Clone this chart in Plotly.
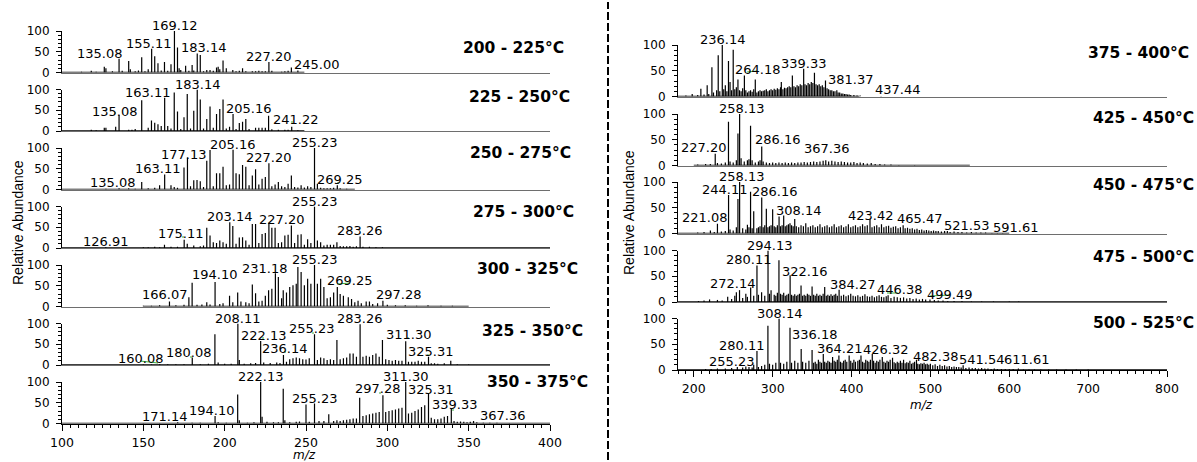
import plotly.graph_objects as go

W, H = 1197, 462

# ---------------- data: left column (m/z, relative abundance) ----------------
L_TITLES = ["200 - 225°C", "225 - 250°C", "250 - 275°C", "275 - 300°C",
            "300 - 325°C", "325 - 350°C", "350 - 375°C"]
R_TITLES = ["375 - 400°C", "425 - 450°C", "450 - 475°C", "475 - 500°C", "500 - 525°C"]

L1_MZ = [112, 118, 121, 126, 127, 131, 135.08, 137, 141, 142, 145, 147, 149, 151, 153, 155.11, 157, 159,
         161, 163, 165, 167, 169.12, 171, 172, 173, 176, 178, 180, 181, 183.14, 185, 187, 189, 191, 193,
         195, 196, 197, 199, 201, 205, 207, 209, 211, 213, 217, 219, 221, 223, 225, 227.20, 229, 235,
         237, 239, 241, 245.00]
L1_AB = [2, 4, 2, 14, 10, 3, 33, 4, 28, 8, 3, 5, 37, 3, 8, 57, 39, 22,
         5, 25, 4, 20, 100, 60, 10, 6, 16, 4, 18, 5, 46, 42, 3, 6, 6, 4,
         12, 14, 8, 29, 10, 6, 3, 4, 10, 3, 3, 3, 4, 3, 3, 25, 4, 2,
         3, 4, 12, 5]
L1_LABELS = ["135.08", "155.11", "169.12", "183.14", "227.20", "245.00"]

L2_MZ = [118, 121, 126, 127, 133, 135.08, 141, 143, 145, 149, 153, 155, 157, 159, 161, 163.11, 165, 167,
         169, 171, 173, 175, 177, 179, 181, 183.14, 185, 187, 189, 191, 193, 195, 197, 199, 201, 203,
         205.16, 207, 209, 211, 213, 215, 219, 221, 223, 225, 227, 229, 233, 237, 239, 241.22, 245]
L2_AB = [3, 2, 8, 8, 10, 38, 3, 3, 5, 74, 8, 25, 20, 16, 12, 80, 12, 6,
         93, 47, 5, 33, 89, 6, 49, 100, 76, 6, 29, 59, 8, 41, 53, 76, 6, 10,
         41, 5, 19, 22, 29, 5, 8, 8, 8, 8, 37, 4, 3, 3, 3, 10, 2]
L2_LABELS = ["135.08", "163.11", "183.14", "205.16", "241.22"]

L3_MZ = [127, 135.08, 141, 145, 149, 153, 157, 160, 163.11, 167, 169, 171, 175, 177.13, 179, 181, 183, 185,
         187, 189, 191, 193, 195, 197, 199, 201, 203, 205.16, 207, 209, 211, 213, 215, 217, 219, 221,
         223, 225, 227.20, 229, 231, 233, 235, 237, 239, 241, 243, 245, 247, 249, 251, 253, 255.23, 257,
         259, 261, 263, 265, 267, 269.25, 271, 275]
L3_AB = [2, 3, 3, 2, 18, 3, 4, 10, 36, 10, 6, 4, 53, 77, 8, 22, 23, 20,
         6, 69, 95, 8, 39, 39, 55, 10, 12, 96, 39, 37, 59, 55, 10, 34, 49, 12,
         26, 30, 63, 8, 12, 18, 8, 6, 14, 34, 6, 5, 10, 5, 8, 6, 100, 14,
         4, 3, 3, 3, 4, 10, 3, 2]
L3_LABELS = ["135.08", "163.11", "177.13", "205.16", "227.20", "255.23", "269.25"]

L4_MZ = [126.91, 150, 153, 157, 160, 163, 167, 171, 175.11, 177, 181, 185, 187, 189, 191, 193, 195, 197,
         199, 201, 203.14, 205, 207, 209, 211, 213, 215, 217, 219, 221, 223, 225, 227.20, 229, 231, 233,
         235, 237, 239, 241, 243, 245, 247, 249, 251, 253, 255.23, 257, 259, 261, 263, 265, 267, 269,
         271, 273, 275, 277, 279, 281, 283.26, 285, 289, 293, 297]
L4_AB = [2, 2, 2, 3, 2, 8, 3, 3, 20, 10, 6, 4, 6, 49, 30, 14, 12, 18,
         14, 10, 62, 53, 10, 25, 26, 18, 8, 58, 58, 12, 34, 36, 61, 49, 49, 12,
         14, 30, 32, 54, 12, 32, 33, 8, 21, 12, 100, 18, 14, 6, 8, 8, 8, 14,
         5, 4, 4, 5, 3, 4, 28, 3, 3, 2, 2]
L4_LABELS = ["126.91", "175.11", "203.14", "227.20", "255.23", "283.26"]

L5_MZ = [150, 155, 160, 166.07, 170, 175, 178, 180, 183, 186, 189, 191, 194.10, 197, 199, 203, 205, 208,
         210, 213, 215, 217, 219, 221, 223, 225, 227, 229, 231.18, 233, 235, 236, 238, 240, 242, 244,
         245, 247, 249, 251, 253, 255.23, 257, 259, 261, 263, 265, 267, 269.25, 271, 273, 276, 278, 280,
         282, 284, 287, 289, 291, 294, 297.28, 300, 305, 311, 318, 325, 333, 340]
L5_AB = [2, 2, 3, 12, 3, 4, 22, 57, 4, 5, 10, 5, 59, 6, 8, 26, 10, 34,
         12, 10, 8, 53, 32, 12, 14, 26, 39, 43, 80, 71, 20, 39, 34, 47, 51, 55,
         95, 83, 51, 67, 55, 100, 55, 67, 47, 20, 22, 34, 47, 30, 26, 22, 18, 10,
         14, 8, 12, 12, 6, 8, 14, 4, 3, 3, 2, 3, 2, 2]
L5_LABELS = ["166.07", "194.10", "231.18", "255.23", "269.25", "297.28"]

L6_MZ = [150, 155, 160.08, 165, 170, 175, 180.08, 185, 190, 194, 196, 200, 204, 208.11, 209, 212, 216, 219,
         222.13, 224, 228, 232, 234, 236.14, 238, 240, 242, 244, 246, 248, 250, 252, 255.23, 257, 259,
         261, 263, 265, 267, 269, 271, 273, 275, 277, 279, 281, 283.26, 285, 287, 289, 291, 293, 295,
         297, 299, 301, 303, 305, 307, 309, 311.30, 313, 315, 317, 319, 321, 323, 325.31, 327, 329, 331,
         335, 339, 343, 350]
L6_AB = [1, 1, 2, 2, 2, 2, 18, 2, 3, 74, 6, 3, 3, 100, 12, 3, 4, 5,
         58, 6, 5, 6, 5, 24, 8, 14, 16, 18, 16, 14, 13, 16, 74, 12, 18,
         16, 12, 14, 12, 60, 14, 16, 18, 28, 28, 20, 98, 20, 22, 20, 24, 28, 20,
         60, 14, 12, 10, 12, 10, 10, 57, 8, 8, 8, 10, 8, 8, 20, 4, 4, 3,
         4, 10, 2, 1]
L6_LABELS = ["160.08", "180.08", "208.11", "222.13", "236.14", "255.23", "283.26", "311.30", "325.31"]

L7_MZ = [150, 160, 171.14, 180, 185, 194.10, 196, 201, 208, 209, 214, 218, 222.13, 223, 226, 230, 233, 236,
         237, 240, 244, 246, 250, 252, 255.23, 258, 261, 264, 267, 269, 271, 273, 275, 277, 279, 281,
         283, 285, 287, 289, 291, 293, 295, 297.28, 299, 301, 303, 305, 307, 309, 311.30, 313, 315, 317,
         319, 321, 323, 325.31, 327, 329, 331, 333, 335, 337, 339.33, 341, 343, 345, 347, 349, 351, 353,
         355, 359, 363, 367.36, 375]
L7_AB = [1, 1, 3, 2, 2, 18, 3, 2, 70, 8, 2, 3, 100, 16, 4, 3, 3, 84,
         8, 3, 4, 5, 46, 4, 48, 6, 6, 22, 6, 8, 6, 8, 9, 10, 12, 12,
         62, 18, 20, 22, 24, 26, 28, 68, 28, 30, 32, 34, 36, 38, 100, 24, 26, 30,
         34, 40, 44, 73, 14, 10, 10, 12, 16, 18, 37, 6, 4, 5, 4, 3, 4, 6,
         3, 2, 2, 2, 1]
L7_LABELS = ["171.14", "194.10", "222.13", "255.23", "297.28", "311.30", "325.31", "339.33", "367.36"]

# ---------------- data: right column ----------------
R1_MZ = [190, 198, 205, 209, 213, 217, 219, 223, 225, 229, 231, 233, 236.14, 238, 240, 242, 244, 246,
         248, 250, 252, 254, 256, 258, 260, 262, 264.18, 266, 268, 270, 272, 274, 276, 278, 280, 282,
         284, 286, 288, 290, 292, 294, 296, 298, 300, 302, 304, 306, 308, 310, 311, 313, 315, 317,
         319, 321, 323, 325, 327, 329, 331, 333, 335, 337, 339.33, 341, 343, 345, 347, 349, 351, 353,
         355, 357, 359, 361, 363, 365, 367, 369, 371, 373, 375, 377, 379, 381.37, 383, 385, 387, 389,
         391, 393, 395, 397, 399, 403, 407, 411, 437.44]
R1_AB = [2, 5, 3, 15, 4, 22, 5, 57, 8, 12, 80, 10, 100, 14, 22, 10, 69, 28,
         12, 91, 14, 18, 33, 12, 10, 16, 41, 12, 8, 10, 12, 9, 14, 33, 8, 10,
         12, 10, 11, 12, 14, 10, 12, 14, 12, 15, 13, 16, 14, 18, 28, 14, 17, 16,
         18, 20, 18, 41, 20, 18, 22, 20, 24, 22, 54, 24, 22, 26, 24, 28, 26, 46,
         24, 22, 24, 20, 22, 18, 31, 16, 14, 12, 12, 10, 10, 12, 8, 8, 6, 6,
         5, 5, 4, 4, 3, 3, 2, 2, 1]
R1_LABELS = ["236.14", "264.18", "339.33", "381.37", "437.44"]

R2_MZ = [205, 215, 221, 227.20, 230, 235, 240, 244, 246, 250, 254, 256, 258.13, 260, 264, 268, 270, 272,
         274, 278, 282, 284, 286.16, 288, 292, 296, 300, 304, 308, 312, 316, 320, 324, 328, 332, 336,
         340, 344, 348, 352, 356, 360, 364, 367.36, 371, 375, 379, 383, 387, 391, 395, 399, 403, 407,
         411, 415, 420, 425, 430, 436, 442, 450, 460, 480]
R2_AB = [2, 3, 3, 23, 5, 4, 6, 85, 8, 6, 10, 62, 100, 14, 8, 10, 12, 77,
         10, 6, 8, 10, 37, 8, 6, 5, 6, 5, 6, 5, 6, 5, 6, 5, 6, 6,
         7, 6, 7, 8, 7, 8, 9, 10, 8, 9, 8, 7, 8, 7, 6, 6, 7, 5,
         6, 5, 4, 5, 3, 3, 2, 2, 1, 1]
R2_LABELS = ["227.20", "258.13", "286.16", "367.36"]

R3_MZ = [205, 213, 221.08, 226, 230, 235, 240, 244.11, 246, 250, 254, 256, 258.13, 262, 266, 268, 270, 272,
         274, 276, 280, 282, 284, 286.16, 288, 290, 292, 294, 296, 298, 300, 302, 304, 306, 308.14, 310,
         312, 314, 316, 318, 320, 322, 324, 326, 328, 330, 333, 336, 339, 342, 345, 348, 351, 354,
         357, 360, 363, 366, 369, 372, 375, 378, 381, 384, 387, 390, 393, 396, 399, 402, 405, 408,
         411, 414, 417, 420, 423.42, 426, 429, 432, 435, 438, 441, 444, 447, 450, 453, 456, 459, 462,
         465.47, 468, 471, 474, 477, 480, 483, 486, 489, 492, 495, 498, 501, 504, 507, 510, 514, 518,
         521.53, 525, 530, 535, 540, 546, 552, 558, 564, 570, 578, 585, 591.61]
R3_AB = [2, 3, 6, 3, 19, 4, 5, 75, 8, 6, 12, 67, 100, 10, 8, 17, 12, 81,
         10, 43, 10, 12, 14, 70, 12, 16, 48, 12, 14, 16, 47, 14, 12, 16, 33, 14,
         16, 35, 14, 16, 18, 20, 16, 14, 28, 14, 12, 16, 14, 20, 12, 14, 16, 12,
         14, 18, 12, 14, 16, 12, 14, 18, 12, 14, 16, 12, 14, 18, 12, 14, 16, 12,
         14, 18, 14, 16, 28, 12, 14, 16, 12, 18, 12, 14, 15, 11, 13, 14, 10, 12,
         16, 10, 11, 9, 10, 8, 9, 7, 8, 6, 7, 6, 5, 6, 5, 5, 4, 5,
         5, 3, 4, 3, 3, 2, 3, 2, 2, 2, 1, 1, 1]
R3_LABELS = ["221.08", "244.11", "258.13", "286.16", "308.14", "423.42", "465.47", "521.53", "591.61"]

R4_MZ = [206, 213, 220, 230, 236, 243, 248, 252, 254, 258, 262, 266, 268, 272.14, 276, 280.11, 282, 286,
         290, 294.13, 296, 298, 302, 304, 306, 308, 310, 312, 314, 316, 318, 320, 322.16, 324, 326, 328,
         330, 332, 334, 336, 338, 340, 342, 344, 346, 348, 350, 352, 354, 356, 358, 360, 362, 364,
         366, 368, 370, 372, 374, 376, 378, 380, 382, 384.27, 387, 390, 393, 396, 399, 402, 405, 408,
         411, 414, 417, 420, 423, 426, 429, 432, 435, 438, 441, 444, 446.38, 450, 454, 458, 462, 466,
         470, 474, 478, 482, 486, 490, 494, 499.49, 505, 510, 516, 522, 530, 540, 552, 565, 580, 600,
         612]
R4_AB = [2, 3, 5, 4, 3, 10, 6, 12, 19, 23, 8, 16, 10, 28, 12, 71, 14, 19,
         12, 100, 16, 23, 14, 12, 18, 81, 16, 14, 18, 12, 14, 16, 52, 14, 12, 15,
         12, 14, 16, 32, 12, 14, 12, 16, 14, 12, 30, 14, 12, 16, 12, 14, 12, 16,
         29, 12, 14, 12, 15, 12, 14, 16, 12, 24, 12, 14, 11, 13, 16, 12, 11, 13,
         10, 12, 15, 11, 10, 12, 9, 11, 13, 10, 9, 11, 13, 8, 10, 9, 8, 9,
         7, 8, 6, 7, 5, 6, 5, 5, 4, 3, 3, 2, 2, 2, 1, 1, 1, 1,
         1]
R4_LABELS = ["272.14", "280.11", "294.13", "322.16", "384.27", "446.38", "499.49"]

R5_MZ = [215, 222, 230, 240, 248, 255.23, 262, 266, 270, 274, 276, 280.11, 282, 286, 290, 294, 296, 300,
         304, 308.14, 310, 314, 318, 322, 324, 328, 332, 336.18, 338, 342, 346, 350, 352, 354, 356, 358,
         360, 362, 364.21, 366, 368, 370, 372, 374, 376, 378, 380, 382, 384, 386, 388, 390, 392, 394,
         397, 399, 401, 403, 405, 408, 410, 412, 414, 416, 418, 420, 422, 424, 426.32, 428, 430, 432,
         434, 436, 439, 441, 443, 445, 447, 449, 452, 454, 456, 458, 460, 462, 464, 466, 468, 470,
         472, 474, 476, 478, 480, 482.38, 484, 486, 488, 490, 492, 494, 496, 498, 500, 503, 506, 509,
         512, 515, 518, 521, 524, 527, 530, 533, 536, 539, 541.54, 545, 549, 553, 557, 561, 565, 569,
         573, 577, 581, 585, 590, 595, 600, 605, 611.61, 618, 625, 632, 640, 650, 660, 672, 685, 700]
R5_AB = [2, 2, 3, 3, 4, 6, 5, 7, 6, 5, 10, 37, 6, 8, 10, 86, 12, 10,
         14, 100, 14, 12, 16, 82, 14, 18, 14, 41, 16, 14, 18, 39, 14, 16, 12, 20,
         16, 14, 31, 16, 14, 18, 16, 14, 25, 18, 16, 20, 28, 16, 14, 18, 20, 16,
         28, 18, 14, 20, 16, 18, 20, 28, 16, 14, 20, 18, 16, 20, 31, 18, 14, 18,
         16, 20, 25, 16, 14, 18, 16, 20, 24, 15, 13, 16, 14, 18, 14, 20, 13, 15,
         14, 18, 12, 14, 16, 20, 12, 11, 13, 12, 14, 11, 12, 10, 12, 9, 11, 8,
         10, 8, 9, 7, 8, 6, 7, 6, 6, 5, 9, 4, 5, 4, 4, 3, 4, 3,
         3, 2, 3, 2, 2, 2, 2, 2, 3, 1, 1, 1, 1, 1, 1, 1, 1, 1]
R5_LABELS = ["255.23", "280.11", "308.14", "336.18", "364.21", "426.32", "482.38", "541.54", "611.61"]

# scan ranges (m/z) covered by each acquired spectrum
L_SCAN = [[100, 249], [100, 249], [100, 280], [100, 400], [150, 350], [100, 400], [100, 400]]
R_SCAN = [[180, 410], [200, 550], [180, 600], [180, 800], [180, 800]]

# ---------------- style / placement (pixels) ----------------
L_DX = [[-19, -3, 1, 7, 0, 19], [-4, -17, 1, 16, 4], [-6, -7, -3, 0, 0, 0, 3], [0, -3, 0, 13, 0, 0],
        [-4, 0, -10, 0, 13, 16], [-19, -3, 0, 3, 2, -3, 0, 3, 2], [-13, -3, 0, 0, -5, 0, 2, 4, 6]]
L_DY = [[0, 0, 0, 0, 0, 0], [-2, 0, 0, 0, 2], [0, 1, -2, 0, 0, 0, 0], [0, 1, 0, -2, 0, 0],
        [2, 2, -1, 0, 1, 1], [0, 0, 0, 0, 1, 0, 0, 1, 0], [0, 0, 0, 0, 1, 0, -2, -2, 2]]
R_DX = [[1, 14, 0, 14, 17], [-11, 2, 16, 1], [-5, -4, 2, 13, 20, 1, 17, 20, 13],
        [-18, -8, 2, 15, 14, 12, 20], [-5, -15, 1, 14, 17, 14, 20, 19, 9]]
R_DY = [[0, 0, 0, 5, 1], [1, 0, 1, 6], [7, 0, 0, 0, 1, -2, 1, 0, 0],
        [-1, 0, 0, -2, 0, 0, -1], [0, 0, 0, 9, 0, -1, -2, 0, 3]]

L_BASE = [72.5, 131, 189.5, 248, 306.5, 365, 423.5]   # px of 0-line
L_H = 41.5
R_BASE = [96.5, 165.5, 233.5, 302, 370]
R_H = 51.5
L_X = (62, 550)
R_X = (678, 1167)
L_TCEN = [(513, 48), (519, 97), (520, 153), (523.5, 212), (527, 269), (532.5, 331), (537, 382)]
R_TCEN = [(1138, 53), (1143, 118), (1143, 185), (1143, 257), (1143, 323)]
# small green label-connector strokes (pixel segments) as in the source software output
GREEN_SEGS = [(337, 284, 350, 283), (140, 361, 158, 363), (747, 72, 757, 71), (887, 293, 898, 293),
              (930, 296, 950, 295), (114, 113, 116, 113), (291, 122, 293, 122), (337, 183, 339, 183),
              (182, 237, 184, 237), (190, 357, 192, 357), (262, 338, 264, 338), (312, 333, 314, 333),
              (284, 352, 286, 352), (407, 338, 409, 338), (427, 355, 429, 355), (379, 393, 381, 393),
              (452, 410, 454, 410)]

LBL_FONT = dict(family="DejaVu Sans", size=13, color="black")
YTICK_FONT = dict(family="DejaVu Sans", size=12, color="black")
XTICK_FONT = dict(family="DejaVu Sans", size=12.5, color="black")
LABEL_YOFF = -4

left = [(L1_MZ, L1_AB, L1_LABELS), (L2_MZ, L2_AB, L2_LABELS), (L3_MZ, L3_AB, L3_LABELS),
        (L4_MZ, L4_AB, L4_LABELS), (L5_MZ, L5_AB, L5_LABELS), (L6_MZ, L6_AB, L6_LABELS),
        (L7_MZ, L7_AB, L7_LABELS)]
right = [(R1_MZ, R1_AB, R1_LABELS), (R2_MZ, R2_AB, R2_LABELS), (R3_MZ, R3_AB, R3_LABELS),
         (R4_MZ, R4_AB, R4_LABELS), (R5_MZ, R5_AB, R5_LABELS)]

panels = []
for i, (mz, ab, lb) in enumerate(left):
    panels.append(dict(mz=mz, ab=ab, lb=lb, dx=L_DX[i], dy=L_DY[i], scan=L_SCAN[i],
                       base=L_BASE[i], h=L_H, xpx=L_X, xr=[100, 400], bottom=(i == 6),
                       dtick=50, minor=5, title=L_TITLES[i], tc=L_TCEN[i]))
for i, (mz, ab, lb) in enumerate(right):
    panels.append(dict(mz=mz, ab=ab, lb=lb, dx=R_DX[i], dy=R_DY[i], scan=R_SCAN[i],
                       base=R_BASE[i], h=R_H, xpx=R_X, xr=[180, 800], bottom=(i == 4),
                       dtick=100, minor=10, title=R_TITLES[i], tc=R_TCEN[i]))

fig = go.Figure()
annotations = []
layout_axes = {}
for k, p in enumerate(panels, start=1):
    sfx = "" if k == 1 else str(k)
    xs, ys = [], []
    for m, a in zip(p["mz"], p["ab"]):
        xs += [m, m, None]
        ys += [0, min(a, 100), None]
    fig.add_trace(go.Scatter(x=p["scan"], y=[0, 0], mode="lines",
                             line=dict(color="black", width=1.3),
                             xaxis="x" + sfx, yaxis="y" + sfx, hoverinfo="skip"))
    fig.add_trace(go.Scatter(x=xs, y=ys, mode="lines", line=dict(color="black", width=1.2),
                             xaxis="x" + sfx, yaxis="y" + sfx, hoverinfo="skip"))
    lookup = dict(zip(p["mz"], p["ab"]))
    for t, dx, dy in zip(p["lb"], p["dx"], p["dy"]):
        v = float(t)
        annotations.append(dict(x=v, y=min(lookup[v], 100), xref="x" + sfx, yref="y" + sfx,
                                text=t, showarrow=False, xanchor="center", yanchor="bottom",
                                xshift=dx, yshift=dy + LABEL_YOFF, font=LBL_FONT))
    # temperature label
    annotations.append(dict(x=p["tc"][0] / W, y=1 - p["tc"][1] / H, xref="paper", yref="paper",
                            text="<b>" + p["title"] + "</b>", showarrow=False,
                            xanchor="center", yanchor="middle",
                            font=dict(family="DejaVu Sans", size=15.5, color="black")))
    bottom = p["bottom"]
    layout_axes["xaxis" + sfx] = dict(
        domain=[p["xpx"][0] / W, p["xpx"][1] / W], range=p["xr"], anchor="y" + sfx,
        automargin=False, showgrid=False, zeroline=False, showline=True,
        linecolor="black" if bottom else "#6e6e6e", linewidth=1.3 if bottom else 1.2,
        ticks="outside" if bottom else "", ticklen=6, tickwidth=1, tickcolor="black",
        tick0=0, dtick=p["dtick"], showticklabels=bottom, tickfont=XTICK_FONT,
        ticklabelstandoff=1,
        minor=dict(dtick=p["minor"], ticks="outside" if bottom else "", ticklen=3,
                   tickcolor="black", showgrid=False),
    )
    layout_axes["yaxis" + sfx] = dict(
        domain=[1 - p["base"] / H, 1 - (p["base"] - p["h"]) / H], range=[0, 100],
        anchor="x" + sfx, automargin=False, showgrid=False, zeroline=False, showline=True,
        linecolor="black", linewidth=1, ticks="outside", ticklen=5, tickcolor="black",
        tick0=0, dtick=50, tickfont=YTICK_FONT, ticklabelstandoff=4,
        minor=dict(dtick=10, ticks="outside", ticklen=3, tickcolor="black", showgrid=False),
    )

# axis titles
annotations += [
    dict(x=18 / W, y=1 - 223 / H, xref="paper", yref="paper", text="Relative Abundance",
         textangle=-90, showarrow=False, xanchor="center", yanchor="middle",
         font=dict(family="Liberation Sans", size=14, color="black")),
    dict(x=629 / W, y=1 - 213 / H, xref="paper", yref="paper", text="Relative Abundance",
         textangle=-90, showarrow=False, xanchor="center", yanchor="middle",
         font=dict(family="Liberation Sans", size=14, color="black")),
    dict(x=304 / W, y=1 - 454.5 / H, xref="paper", yref="paper", text="<i>m/z</i>",
         showarrow=False, xanchor="center", yanchor="middle",
         font=dict(family="DejaVu Sans", size=12, color="black")),
    dict(x=921 / W, y=1 - 405 / H, xref="paper", yref="paper", text="<i>m/z</i>",
         showarrow=False, xanchor="center", yanchor="middle",
         font=dict(family="DejaVu Sans", size=12, color="black")),
]

shapes = [dict(type="line", xref="paper", yref="paper", x0=608 / W, x1=608 / W,
               y0=1 - 460 / H, y1=1 - 2 / H, line=dict(color="black", width=2, dash="8px,3px"))]
for (x0, y0, x1, y1) in GREEN_SEGS:
    shapes.append(dict(type="line", xref="paper", yref="paper", x0=x0 / W, x1=x1 / W,
                       y0=1 - y0 / H, y1=1 - y1 / H, line=dict(color="#3cb043", width=1)))

fig.update_layout(
    template="none",
    width=W, height=H, margin=dict(l=0, r=0, t=0, b=0, pad=0),
    paper_bgcolor="white", plot_bgcolor="rgba(0,0,0,0)", showlegend=False,
    font=dict(family="DejaVu Sans", color="black"),
    annotations=annotations, shapes=shapes,
    **layout_axes,
)

fig.write_html("out.html", config={"displayModeBar": False},
               post_script="document.body.style.margin='0';")
